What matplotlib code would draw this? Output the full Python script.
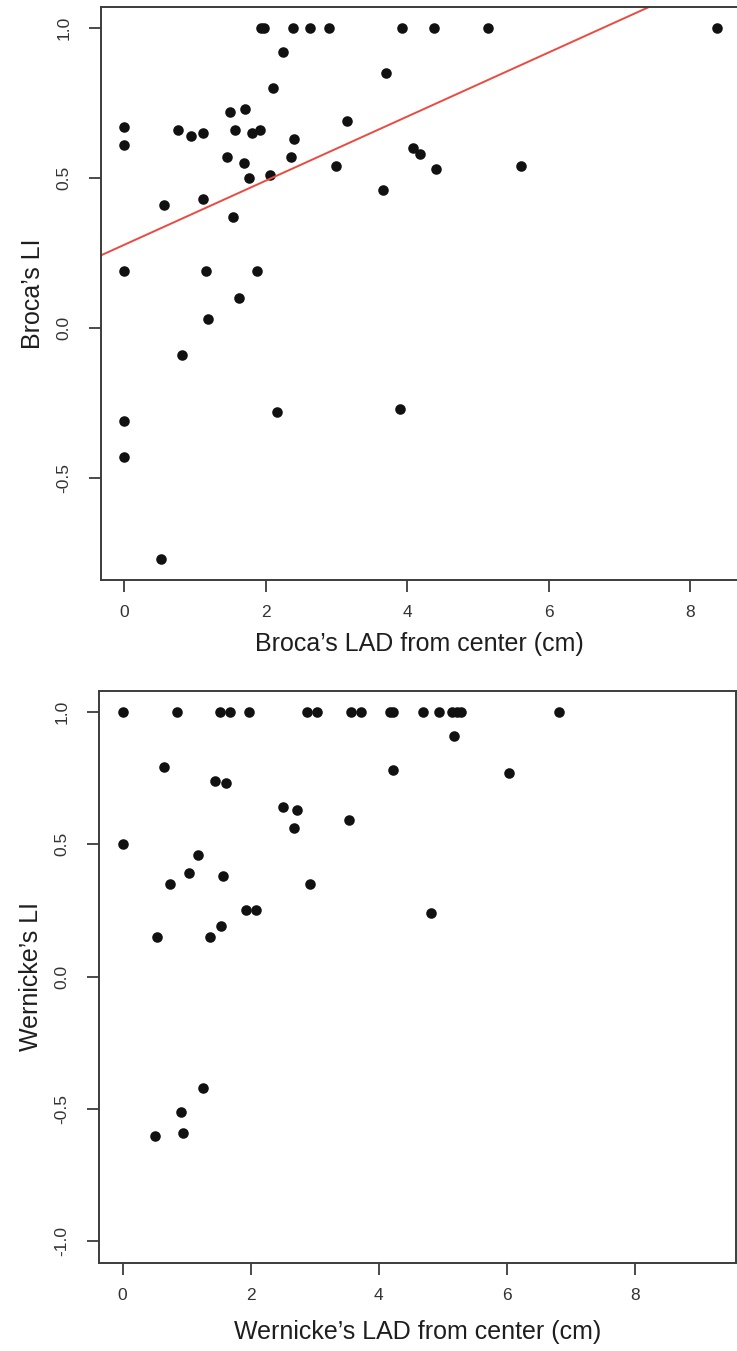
import numpy as np
import matplotlib.pyplot as plt

plt.rcParams['font.family'] = ['Liberation Sans', 'DejaVu Sans']

# Broca's area: LAD from center (cm) vs laterality index
brocaLad = [0, 0, 0, 0, 0,
            0.56, 0.76, 0.94, 1.11, 1.11, 1.15, 1.18,
            1.45, 1.49, 1.57, 1.53, 1.62, 1.69, 1.70, 1.76, 1.81, 1.92, 1.87,
            1.93, 1.97, 2.06, 2.10, 2.24, 2.38, 2.36, 2.40, 2.62, 2.89, 2.99, 3.14,
            0.52, 0.81, 2.16,
            3.93, 4.37, 5.14, 8.37, 3.70, 4.08, 4.18, 4.41, 5.61, 3.65, 3.90]
brocaLi = [0.67, 0.61, 0.19, -0.31, -0.43,
           0.41, 0.66, 0.64, 0.65, 0.43, 0.19, 0.03,
           0.57, 0.72, 0.66, 0.37, 0.10, 0.55, 0.73, 0.50, 0.65, 0.66, 0.19,
           1.00, 1.00, 0.51, 0.80, 0.92, 1.00, 0.57, 0.63, 1.00, 1.00, 0.54, 0.69,
           -0.77, -0.09, -0.28,
           1.00, 1.00, 1.00, 1.00, 0.85, 0.60, 0.58, 0.53, 0.54, 0.46, -0.27]

# Wernicke's area
wernickeLad = [0, 0.85, 1.52, 1.68, 1.98, 2.875, 3.03, 3.56, 3.72, 4.17, 4.22,
               4.69, 4.94, 5.15, 5.22, 5.29, 6.82,
               5.17, 4.22, 6.04, 4.82,
               0, 0.65, 0.74, 0.53, 1.04, 1.18, 1.44, 1.61, 1.56, 1.36, 1.53,
               1.92, 2.09, 2.50, 2.72, 2.67, 2.93, 3.54,
               1.25, 0.91, 0.95, 0.50]
wernickeLi = [1, 1, 1, 1, 1, 1, 1, 1, 1, 1, 1,
              1, 1, 1, 1, 1, 1,
              0.91, 0.78, 0.77, 0.24,
              0.50, 0.79, 0.35, 0.15, 0.39, 0.46, 0.74, 0.73, 0.38, 0.15, 0.19,
              0.25, 0.25, 0.64, 0.63, 0.56, 0.35, 0.59,
              -0.42, -0.51, -0.59, -0.60]

xTicks = [0, 2, 4, 6, 8]
xTickLabels = ['0', '2', '4', '6', '8']
yTicksTop = [-0.5, 0.0, 0.5, 1.0]
yTickLabelsTop = ['-0.5', '0.0', '0.5', '1.0']
yTicksBottom = [-1.0, -0.5, 0.0, 0.5, 1.0]
yTickLabelsBottom = ['-1.0', '-0.5', '0.0', '0.5', '1.0']

fig = plt.figure(figsize=(7.37, 13.51), dpi=100)
axTop = fig.add_axes([0.1366, 0.5707, 0.8655, 0.4243])
axBot = fig.add_axes([0.1343, 0.0654, 0.8643, 0.4234])

spineColor = '#3c3c3c'
tickColor = '#333333'
labelColor = '#1e1e1e'


def style(ax, xlabel, ylabel, yticks, ylabels, xlab_y):
    for s in ax.spines.values():
        s.set_color(spineColor)
        s.set_linewidth(1.4)
    ax.set_xticks(xTicks)
    ax.set_xticklabels(xTickLabels)
    ax.set_yticks(yticks)
    ax.set_yticklabels(ylabels, rotation=90, va='center')
    ax.tick_params(axis='both', direction='out', length=8.6, width=1.3,
                   color=spineColor, labelsize=12.5, labelcolor=tickColor)
    ax.tick_params(axis='x', pad=9.5)
    ax.tick_params(axis='y', pad=12.5)
    ax.set_xlabel(xlabel, fontsize=18, color=labelColor)
    ax.set_ylabel(ylabel, fontsize=18, color=labelColor)
    ax.xaxis.set_label_coords(0.5, xlab_y)
    ax.yaxis.set_label_coords(-0.088, 0.5)


# top panel: Broca
axTop.plot(brocaLad, brocaLi, 'o', color='#111111', markersize=7.6, markeredgewidth=0)
slope, intercept = np.polyfit(brocaLad, brocaLi, 1)
axTop.axline((0, intercept), slope=slope, color='#ec4a40', linewidth=1.4)
axTop.set_xlim(-0.334, 8.68)
axTop.set_ylim(-0.841, 1.071)
style(axTop, 'Broca\u2019s LAD from center (cm)', 'Broca\u2019s LI',
      yTicksTop, yTickLabelsTop, -0.0907)

# bottom panel: Wernicke
axBot.plot(wernickeLad, wernickeLi, 'o', color='#111111', markersize=7.6, markeredgewidth=0)
axBot.set_xlim(-0.37, 9.58)
axBot.set_ylim(-1.08, 1.08)
style(axBot, 'Wernicke\u2019s LAD from center (cm)', 'Wernicke\u2019s LI',
      yTicksBottom, yTickLabelsBottom, -0.0995)

fig.savefig('out.png', dpi=100)
